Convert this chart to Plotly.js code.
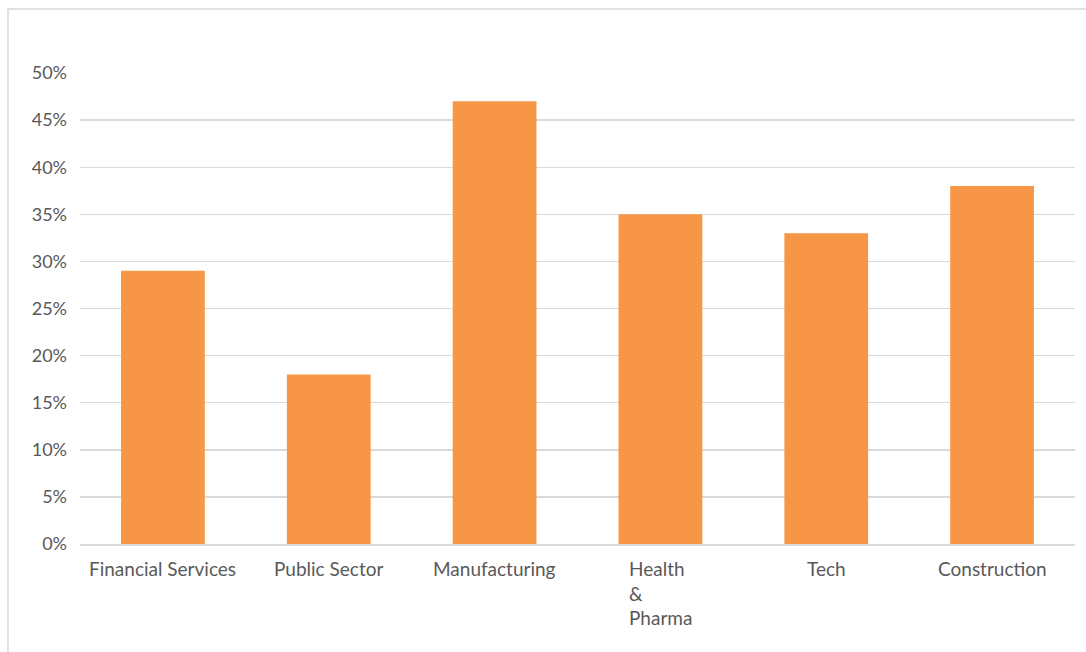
<!DOCTYPE html>
<html>
<head>
<meta charset="utf-8">
<script src="https://cdn.plot.ly/plotly-3.0.1.min.js"></script>
<style>html,body{margin:0;padding:0;background:#fff;}#chart{width:1086px;height:652px;}</style>
</head>
<body>
<div id="chart"></div>
<script>
var categories = ["Financial Services", "Public Sector", "Manufacturing", "Health & Pharma", "Tech", "Construction"];
var tickLabels = ["Financial Services", "Public Sector", "Manufacturing", "Health<br>&<br>Pharma", "Tech", "Construction"];
var values = [0.29, 0.18, 0.47, 0.35, 0.33, 0.38];
var yTicks = [0, 0.05, 0.10, 0.15, 0.20, 0.25, 0.30, 0.35, 0.40, 0.45, 0.50];

var fontFam = "Lato, 'Open Sans', sans-serif";
var annotations = categories.map(function (c, i) {
  return {
    x: c, xref: 'x', y: 0, yref: 'paper', yanchor: 'top', yshift: -11,
    text: tickLabels[i], showarrow: false, align: 'left',
    font: {family: fontFam, size: 19, color: '#595959'}
  };
});

var trace = {
  type: 'bar', x: categories, y: values,
  marker: {color: '#F79646'},
  hoverinfo: 'x+y'
};

var layout = {
  width: 1086, height: 652,
  margin: {l: 80, r: 11, t: 73, b: 108},
  paper_bgcolor: '#ffffff', plot_bgcolor: '#ffffff',
  bargap: 0.495,
  showlegend: false,
  font: {family: fontFam, size: 17, color: '#595959'},
  xaxis: {type: 'category', showticklabels: false, showgrid: false, zeroline: false,
          showline: true, linecolor: '#d9d9d9', linewidth: 1.5, ticks: ''},
  yaxis: {range: [0, 0.5001], tickvals: yTicks, tickformat: '.0%', showgrid: true,
          gridcolor: '#d9d9d9', gridwidth: 1.5, zeroline: false, showline: false,
          ticks: '', ticklabelstandoff: 12,
          tickfont: {family: fontFam, size: 18, color: '#595959'}},
  annotations: annotations,
  shapes: [{type: 'rect', xref: 'paper', yref: 'paper', x0: -0.0724, x1: 1.05, y0: -0.4, y1: 1.1359,
            line: {color: '#d9d9d9', width: 1.5}, fillcolor: 'rgba(0,0,0,0)', layer: 'below'}]
};

Plotly.newPlot('chart', [trace], layout, {displayModeBar: false, staticPlot: true});
</script>
</body>
</html>
